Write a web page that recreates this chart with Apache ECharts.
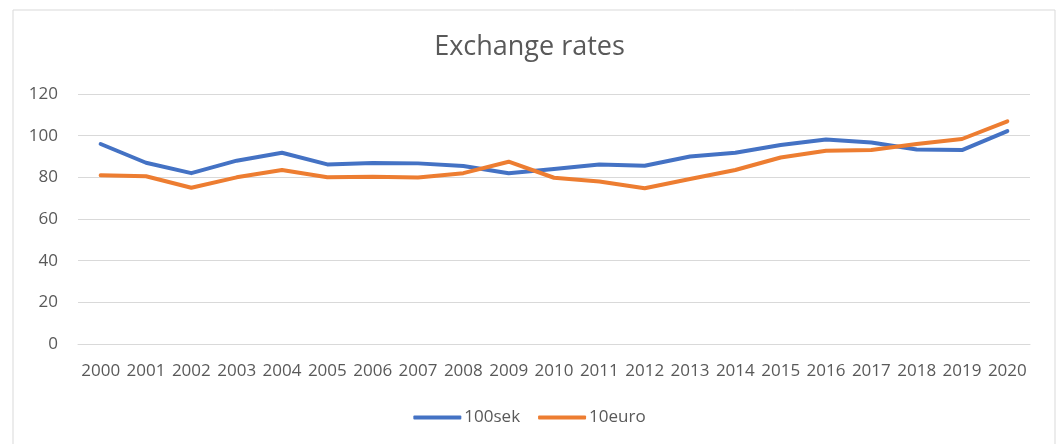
<!DOCTYPE html>
<html>
<head>
<meta charset="utf-8">
<script src="https://cdn.jsdelivr.net/npm/echarts@6/dist/echarts.min.js"></script>
<style>
  html, body { margin: 0; padding: 0; background: #fff; }
  #chart { width: 1059px; height: 444px; }
</style>
</head>
<body>
<div id="chart"></div>
<script>
var years = ['2000', '2001', '2002', '2003', '2004', '2005', '2006', '2007', '2008', '2009', '2010',
    '2011', '2012', '2013', '2014', '2015', '2016', '2017', '2018', '2019', '2020'];
var sek100 = [96, 87, 82, 88, 91.8, 86.2, 86.9, 86.7, 85.4, 82, 84,
    86.2, 85.6, 90, 91.8, 95.5, 98.2, 96.7, 93.4, 93.1, 102.2];
var euro10 = [81, 80.5, 75, 80, 83.5, 80, 80.3, 79.9, 82, 87.5, 79.8,
    78, 74.8, 79.2, 83.5, 89.5, 92.8, 93.1, 96, 98.4, 106.9];
var yTicks = { min: 0, max: 120, interval: 20 };

var myChart = echarts.init(document.getElementById('chart'));
var textColor = '#595959';
var fontName = 'Open Sans';

var option = {
    backgroundColor: '#fff',
    graphic: [{
        type: 'rect',
        shape: { x: 13, y: 10, width: 1042, height: 450 },
        style: { fill: 'none', stroke: '#d9d9d9', lineWidth: 1 },
        silent: true
    }],
    title: {
        text: 'Exchange rates',
        left: 'center',
        top: 29,
        textStyle: { color: textColor, fontSize: 27, fontWeight: 'normal', fontFamily: fontName }
    },
    grid: { left: 78, right: 29, top: 94, bottom: 100, containLabel: false },
    legend: {
        bottom: 13,
        left: 'center',
        itemWidth: 48,
        itemHeight: 4,
        itemGap: 18,
        textStyle: { color: textColor, fontSize: 17, fontFamily: fontName, padding: [0, 0, 0, -2] },
        data: [
            { name: '100sek', icon: 'roundRect' },
            { name: '10euro', icon: 'roundRect' }
        ]
    },
    xAxis: {
        type: 'category',
        data: years,
        boundaryGap: true,
        axisLine: { show: true, lineStyle: { color: '#d9d9d9', width: 1 } },
        axisTick: { show: false },
        axisLabel: { color: textColor, fontSize: 17, fontFamily: fontName, margin: 19, interval: 0 }
    },
    yAxis: {
        type: 'value',
        min: yTicks.min,
        max: yTicks.max,
        interval: yTicks.interval,
        axisLine: { show: false },
        axisTick: { show: false },
        splitLine: { lineStyle: { color: '#d9d9d9', width: 1 } },
        axisLabel: { color: textColor, fontSize: 17, fontFamily: fontName, margin: 20 }
    },
    series: [{
        name: '100sek',
        type: 'line',
        data: sek100,
        symbol: 'none',
        color: '#4472C4',
        lineStyle: { width: 4, color: '#4472C4', cap: 'round', join: 'round' }
    }, {
        name: '10euro',
        type: 'line',
        data: euro10,
        symbol: 'none',
        color: '#ED7D31',
        lineStyle: { width: 4, color: '#ED7D31', cap: 'round', join: 'round' }
    }]
};

myChart.setOption(option);
</script>
</body>
</html>
